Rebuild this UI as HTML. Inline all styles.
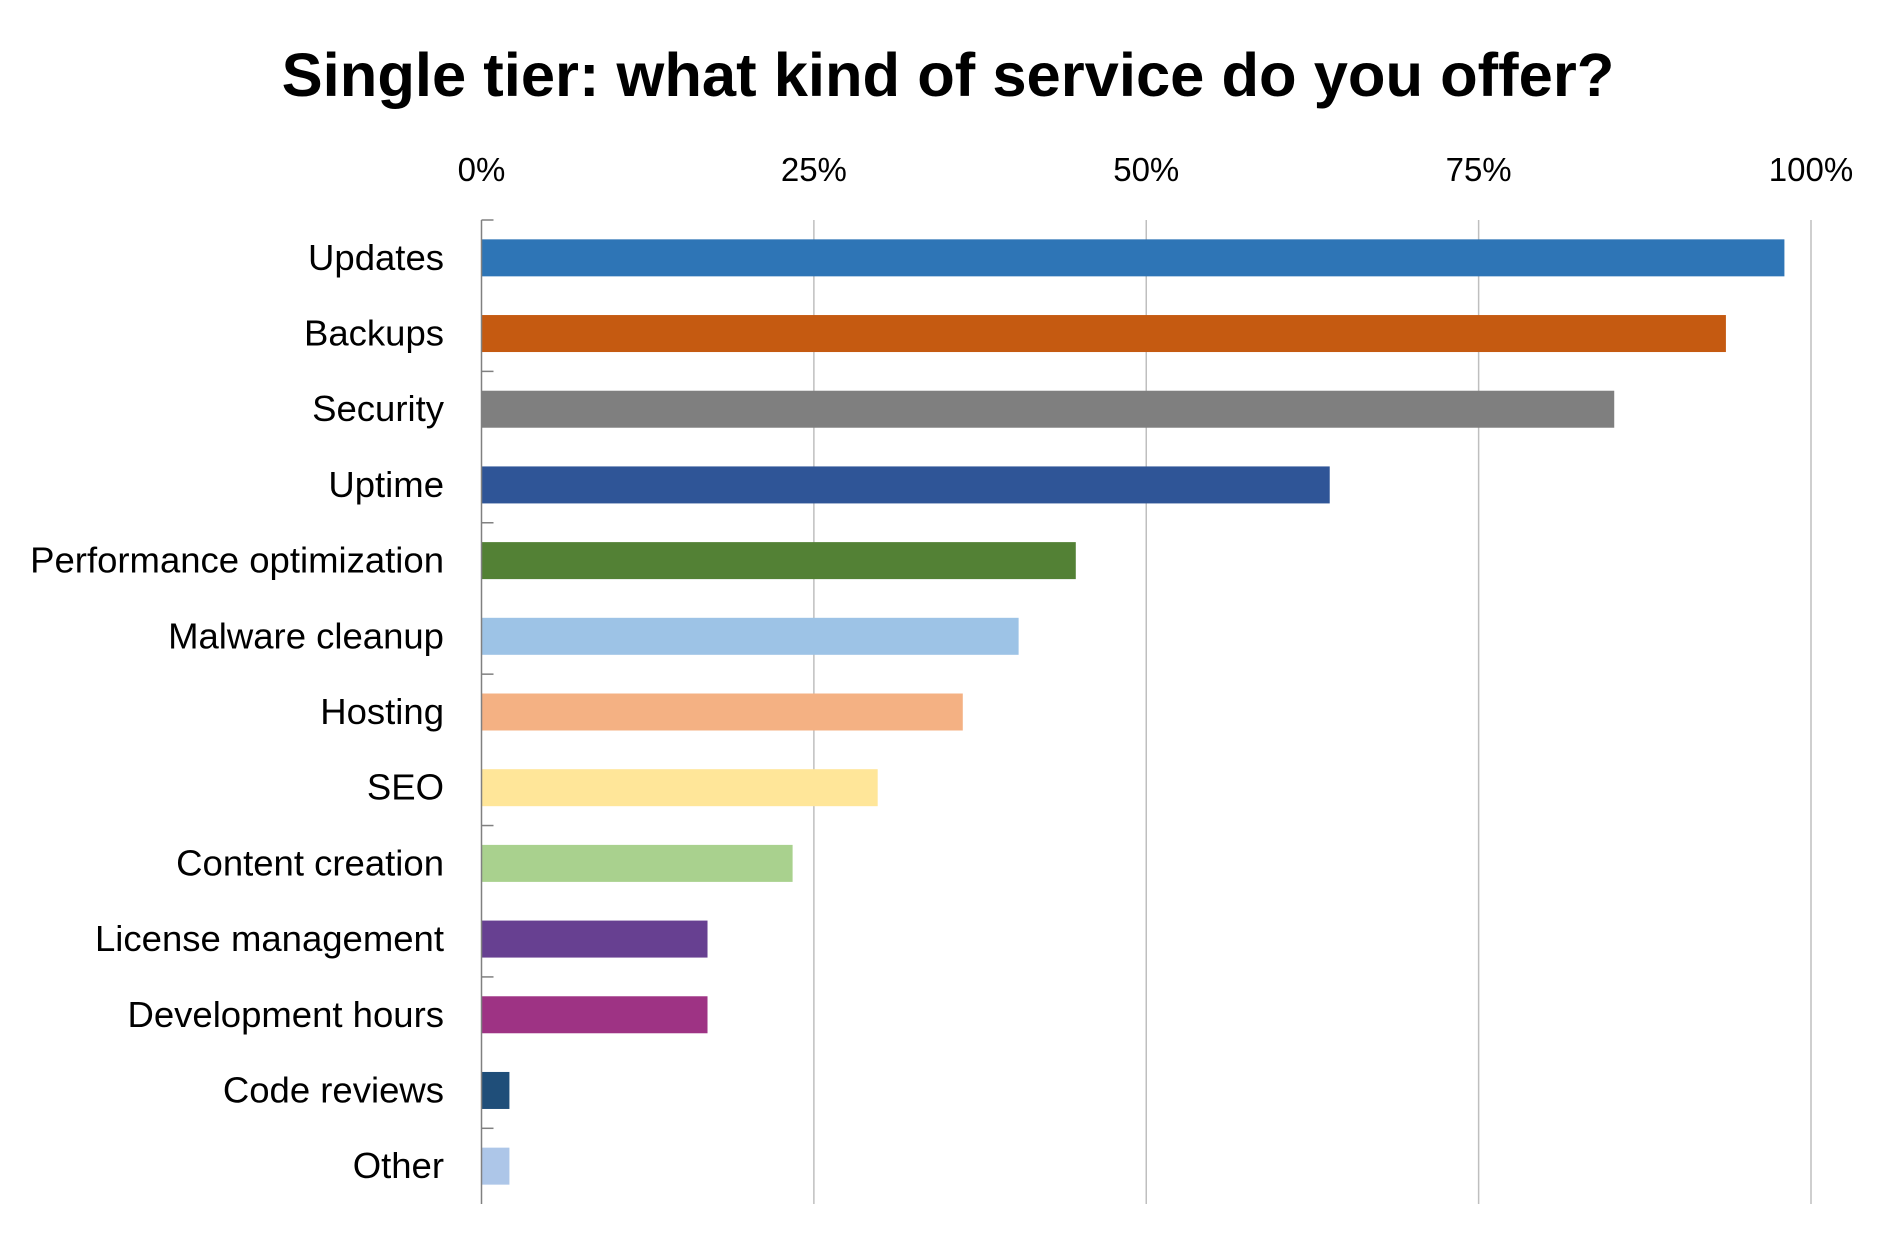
<!DOCTYPE html>
<html>
<head>
<meta charset="utf-8">
<style>
  html, body { margin: 0; padding: 0; background: #ffffff; }
  body { width: 1896px; height: 1246px; overflow: hidden; }
  svg text { font-family: "Liberation Sans", "DejaVu Sans", sans-serif; }
</style>
</head>
<body>
<svg id="chart" width="1896" height="1246" viewBox="0 0 1896 1246" xmlns="http://www.w3.org/2000/svg">
  <text x="948" y="96" text-anchor="middle" font-size="61.5" font-weight="bold" fill="#000">Single tier: what kind of service do you offer?</text>
  <g id="grid"></g>
  <g id="ticks"></g>
  <g id="bars"></g>
  <g id="cats"></g>
  <g id="axis"></g>
</svg>
<script>
const categories = ["Updates","Backups","Security","Uptime","Performance optimization","Malware cleanup","Hosting","SEO","Content creation","License management","Development hours","Code reviews","Other"];
const values = [98, 93.6, 85.2, 63.8, 44.7, 40.4, 36.2, 29.8, 23.4, 17.0, 17.0, 2.1, 2.1];
const colors = ["#2e75b6","#c55a11","#7f7f7f","#2f5597","#538135","#9dc3e6","#f4b183","#ffe699","#a9d18e","#674091","#9e3384","#1f4e79","#adc6e8"];
const tickValues = [0, 25, 50, 75, 100];
const tickLabels = ["0%","25%","50%","75%","100%"];

const NS = "http://www.w3.org/2000/svg";
const X0 = 481.5, X1 = 1811, Y0 = 220, Y1 = 1204;
const xScale = v => X0 + (v / 100) * (X1 - X0);
const band = (Y1 - Y0) / categories.length;
const yCenter = i => Y0 + band * (i + 0.5);
const barH = 37;

function mk(tag, attrs, parent) {
  const el = document.createElementNS(NS, tag);
  for (const k in attrs) el.setAttribute(k, attrs[k]);
  parent.appendChild(el);
  return el;
}
const grid = document.getElementById("grid");
const ticks = document.getElementById("ticks");
const bars = document.getElementById("bars");
const cats = document.getElementById("cats");
const axis = document.getElementById("axis");

tickValues.forEach((t, i) => {
  const x = xScale(t);
  if (t !== 0) {
    const gl = mk("line", {x1: x, x2: x, y1: Y0, y2: Y1, stroke: "#bfbfbf", "stroke-width": 1.5}, grid);
    
    
  }
  const tx = mk("text", {x: x, y: 181, "text-anchor": "middle", "font-size": 33, fill: "#000"}, ticks);
  tx.textContent = tickLabels[i];
  
  
});

categories.forEach((c, i) => {
  const yc = yCenter(i);
  const r = mk("rect", {x: X0, y: yc - barH / 2, width: xScale(values[i]) - X0, height: barH, fill: colors[i]}, bars);
  
  
  const t = mk("text", {x: 444, y: yc + 12, "text-anchor": "end", "font-size": 36.5, fill: "#000"}, cats);
  t.textContent = c;
  
  
});

const al = mk("line", {x1: X0, x2: X0, y1: Y0, y2: Y1, stroke: "#808080", "stroke-width": 1.5}, axis);


for (let i = 0; i <= categories.length; i += 2) {
  const y = Y0 + band * i;
  const tk = mk("line", {x1: X0, x2: X0 + 12, y1: y, y2: y, stroke: "#808080", "stroke-width": 1.5}, axis);
  
  
}
</script>
</body>
</html>
